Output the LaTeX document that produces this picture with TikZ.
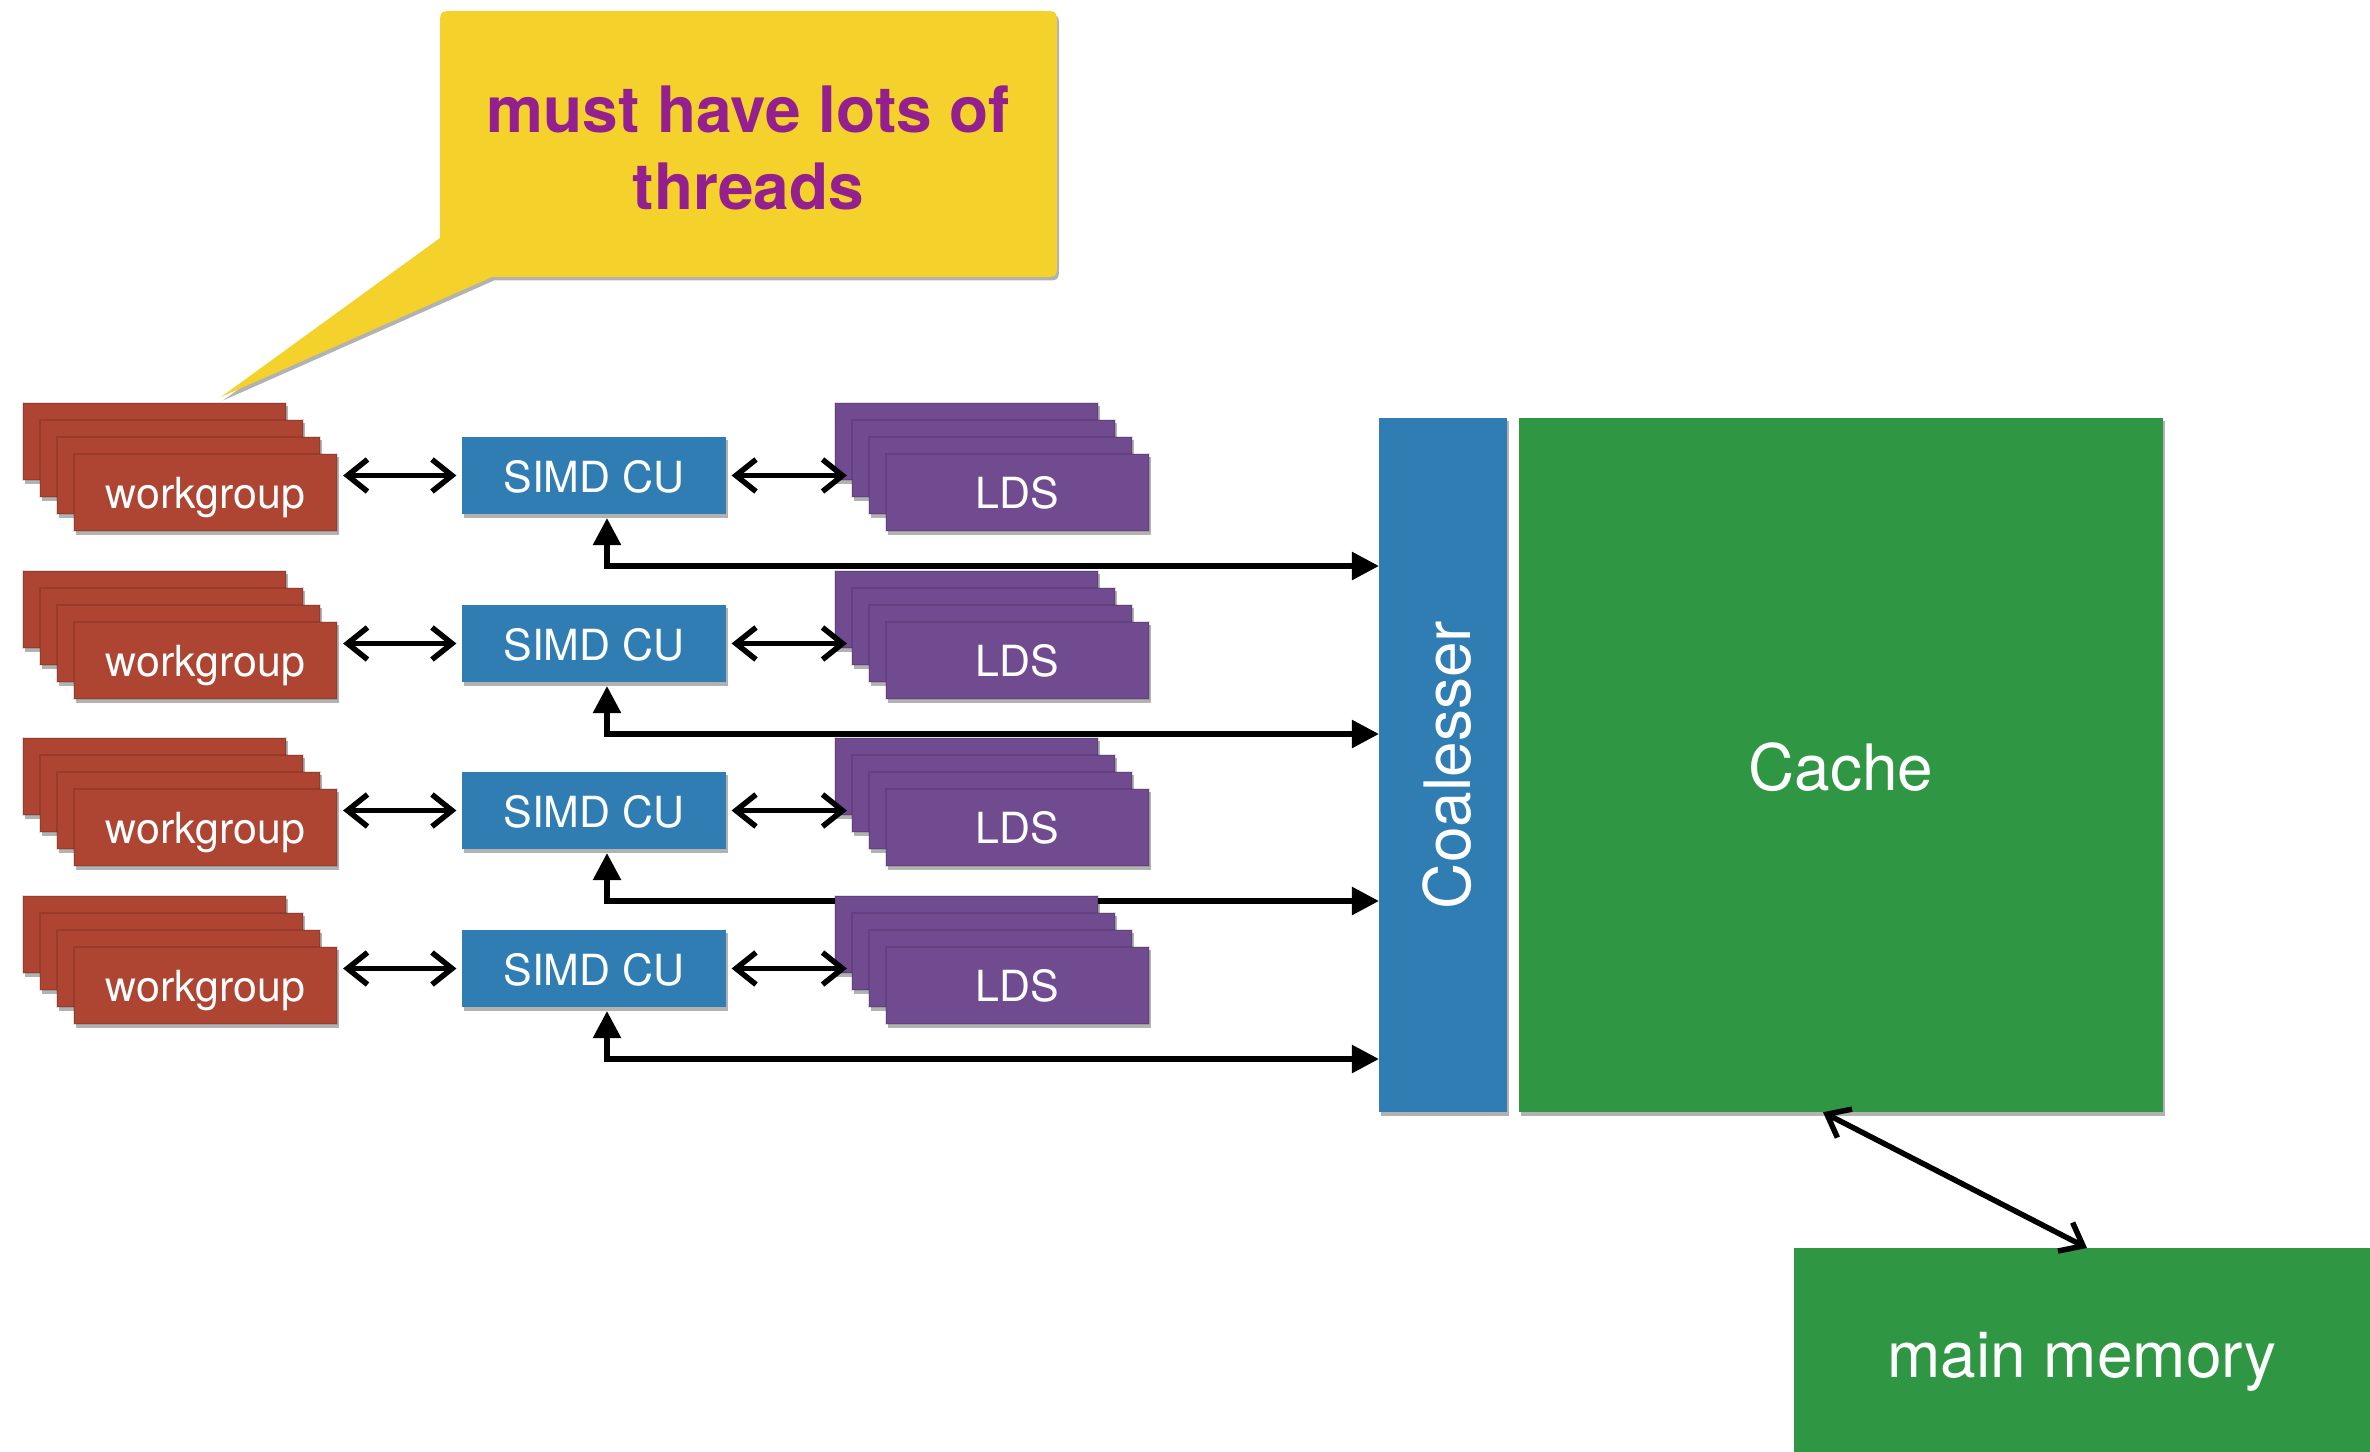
\documentclass[tikz,border=0pt]{standalone}
\usepackage{fontspec}
\setmainfont{TeX Gyre Heros}
\usetikzlibrary{arrows.meta,shadows}
\definecolor{wgred}{RGB}{174,68,50}
\definecolor{simdblue}{RGB}{47,125,179}
\definecolor{ldspurple}{RGB}{113,75,144}
\definecolor{cachegreen}{RGB}{47,151,67}
\definecolor{callyellow}{RGB}{244,210,43}
\definecolor{callpurple}{RGB}{147,32,142}
\pgfdeclarelayer{bg}
\pgfdeclarelayer{paper}
\pgfsetlayers{paper,bg,main}
\newcommand\dgSmall{\fontsize{12.2}{14}\selectfont}
\newcommand\dgBig{\fontsize{18.2}{21}\selectfont}
\newcommand\dgCall{\bfseries\fontsize{18.2}{21.9}\selectfont}
\tikzset{
  sh/.style={drop shadow={shadow xshift=0.02cm, shadow yshift=-0.035cm, opacity=0.3, fill=black}},
  blk/.style={rectangle, inner sep=0pt, outer sep=0pt, text=white, sh},
  layer/.style={blk, minimum width=2.63cm, minimum height=0.77cm, font=\dgSmall, text depth=0pt,
                draw=black, draw opacity=0.12, line width=0.4pt},
  wgl/.style={layer, fill=wgred, text height=0.31cm},
  ldsl/.style={layer, fill=ldspurple, text height=0.31cm},
  simdbox/.style={layer, fill=simdblue, text height=0.33cm, draw=none},
  bigbox/.style={blk, font=\dgBig, text depth=0pt},
  conn/.style={line width=0.055cm, black},
  bi/.style={conn, {Straight Barb[length=0.2cm,width=0.32cm]}-{Straight Barb[length=0.2cm,width=0.32cm]}},
  tri/.style={conn, {Triangle[length=0.27cm,width=0.27cm]}-{Triangle[length=0.27cm,width=0.27cm]}},
}
\begin{document}
\begin{tikzpicture}[x=0.01cm, y=-0.01cm]
\begin{pgfonlayer}{paper}
\fill[white] (0,0) rectangle (2370,1452);
\end{pgfonlayer}
\useasboundingbox (0,0) rectangle (2370,1452);

% callout
\fill[callyellow, sh] (440,238) -- (221,397) -- (492,277) -- (1042,277)
   .. controls (1057,277) .. (1057,262) -- (1057,26)
   .. controls (1057,11) .. (1042,11) -- (455,11)
   .. controls (440,11) .. (440,26) -- cycle;
\node[font=\dgCall, text=callpurple, align=center, inner sep=0pt] (callout) at (748.5,147.5)
   {must have lots of\\threads};

% coalescer, cache, main memory
\node[bigbox, fill=simdblue, minimum width=1.28cm, minimum height=6.94cm,
      label={[rotate=90, font=\dgBig, text=white, text height=0.54cm, text depth=0pt, inner sep=0pt]center:Coalesser}]
      (coal) at (1443,765) {};
\node[bigbox, fill=cachegreen, minimum width=6.44cm, minimum height=6.94cm, text height=0.5cm]
      (cache) at (1841,765) {Cache};
\node[bigbox, fill=cachegreen, minimum width=5.76cm, minimum height=2.04cm, text height=0.54cm]
      (mm) at (2082,1350) {main memory};

% rows
\foreach \r/\T in {1/437, 2/605, 3/772, 4/930} {
  \foreach \k in {0,1,2} {
    \node[wgl] (wgL\r\k) at ({154.5+17*\k}, {\T+4.5+17*\k}) {};
  }
  \node[wgl] (wg\r) at (205.5, \T+55.5) {workgroup};
  \node[simdbox] (simd\r) at (594, \T+38.5) {SIMD CU};
  \foreach \k in {0,1,2} {
    \node[ldsl] (ldsL\r\k) at ({966.5+17*\k}, {\T+4.5+17*\k}) {};
  }
  \node[ldsl] (lds\r) at (1017.5, \T+55.5) {LDS};
  \draw[bi, shorten <=0.06cm, shorten >=0.06cm] (wg\r.east |- simd\r.west) -- (simd\r.west);
  \draw[bi, shorten <=0.06cm, shorten >=0.05cm] (simd\r.east) -- (simd\r.east -| ldsL\r1.west);
}

% connectors to coalescer (behind boxes)
\begin{pgfonlayer}{bg}
\foreach \r/\T in {1/437, 2/605, 3/772, 4/930} {
  \coordinate (bend\r) at (607, \T+129);
  \draw[tri, shorten <=0.04cm] (simd\r.south -| bend\r) -- (bend\r) -- (bend\r -| coal.west);
}
\end{pgfonlayer}

\draw[bi] ([xshift=-0.18cm]cache.south) -- ([xshift=0.05cm]mm.north);
\end{tikzpicture}
\end{document}
